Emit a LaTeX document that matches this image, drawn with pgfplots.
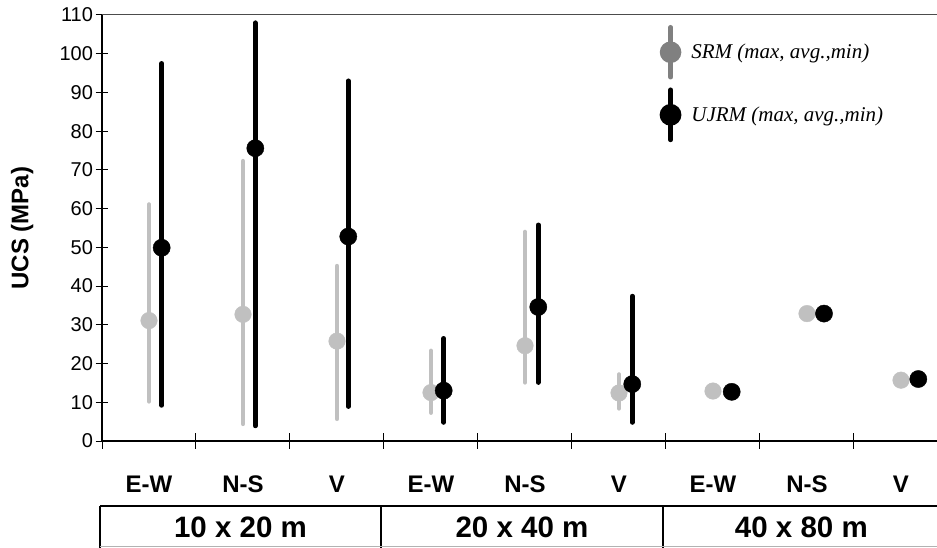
\documentclass[border=0pt]{standalone}
\usepackage{fontspec}
\setmainfont{Liberation Sans}
\newfontfamily\legfont{Liberation Serif}
\usepackage{pgfplots}
\usepackage{pgfplotstable}
\pgfplotsset{compat=1.18}
\definecolor{srm}{HTML}{C0C0C0}
\definecolor{srmleg}{HTML}{808080}

% x  avg  (max-avg)  (avg-min)
\pgfplotstableread{
x y ep em
0.5 31.1 30.0 20.9
1.5 32.7 39.6 28.3
2.5 25.8 19.4 20.1
3.5 12.5 10.8 5.2
4.5 24.6 29.4 9.5
5.5 12.4 4.8 4.0
6.5 12.9 0 0
7.5 32.9 0 0
8.5 15.7 0 0
}\srmdata

\pgfplotstableread{
x y ep em
0.635 49.9 47.6 40.7
1.631 75.6 32.4 71.7
2.620 52.8 40.2 43.9
3.635 13.0 13.5 8.2
4.641 34.6 21.2 19.5
5.641 14.7 22.7 9.9
6.699 12.7 0 0
7.681 32.9 0 0
8.684 16.0 0 0
}\ujrmdata

\begin{document}
\begin{tikzpicture}
\useasboundingbox (0,0) rectangle (937bp,548bp);
\begin{axis}[
  at={(102bp,107bp)}, anchor=south west,
  scale only axis, width=846bp, height=426bp,
  xmin=0, xmax=9, ymin=0, ymax=110,
  axis x line*=bottom, axis y line*=left,
  axis line style={line width=1.3bp, -},
  clip=false,
  xtick={0.5,1.5,...,8.5},
  xticklabels={E-W,N-S,V,E-W,N-S,V,E-W,N-S,V},
  major x tick style={draw=none},
  minor xtick={0,1,...,9},
  minor tick length=16bp,
  minor x tick style={line width=1bp, black},
  ytick={0,10,...,110},
  major tick length=13bp,
  major y tick style={line width=1bp, black},
  tick align=center,
  /pgf/number format/assume math mode=true,
  xticklabel style={font=\bfseries\fontsize{24bp}{28bp}\selectfont, anchor=center, yshift=-37bp},
  yticklabel style={font=\fontsize{20bp}{24bp}\selectfont, xshift=1bp},
  ylabel={UCS (MPa)},
  ylabel style={font=\bfseries\fontsize{24bp}{29bp}\selectfont, at={(axis description cs:-0.0945,0.5)}, anchor=center},
  legend style={at={(axis description cs:0.659,0.977)}, anchor=north west, draw=none, fill=none, inner sep=0pt, row sep=8bp, font=\legfont\itshape\fontsize{21bp}{25bp}\selectfont, cells={anchor=west}},
  legend image code/.code={\draw[line cap=round] (0bp,-25bp) -- (0bp,25bp); \fill (0bp,0bp) circle (8.5bp);},
]
\addlegendimage{srmleg, line width=4.5bp}
\addlegendentry{\hspace{8bp}SRM (max, avg.,min)}
\addlegendimage{black, line width=4.7bp}
\addlegendentry{\hspace{8bp}UJRM (max, avg.,min)}

\addplot[forget plot, srm, only marks, mark=*, mark size=8.3bp, mark options={draw=srm, fill=srm},
  error bars/.cd, y dir=both, y explicit, error mark=none,
  error bar style={srm, line width=4.3bp, line cap=round}]
  table[x=x, y=y, y error plus=ep, y error minus=em]{\srmdata};
\addplot[forget plot, black, only marks, mark=*, mark size=8.6bp, mark options={draw=black, fill=black},
  error bars/.cd, y dir=both, y explicit, error mark=none,
  error bar style={black, line width=4.7bp, line cap=round}]
  table[x=x, y=y, y error plus=ep, y error minus=em]{\ujrmdata};

\draw[line width=1bp, black!70] (axis cs:0,110) -- (axis cs:9,110);
% group box
\draw[line width=1.3bp] (axis cs:-0.021,-16.8) -- (axis cs:9.5,-16.8);
\draw[line width=1.3bp] (axis cs:-0.021,-16.8) -- (axis cs:-0.021,-27.5);
\draw[line width=1.3bp] (axis cs:2.968,-16.8) -- (axis cs:2.968,-27.5);
\draw[line width=1.3bp] (axis cs:5.968,-16.8) -- (axis cs:5.968,-27.5);
\draw[line width=1bp, black!30] (axis cs:-0.021,-27.3) -- (axis cs:9.5,-27.3);
\node[font=\bfseries\fontsize{29.5bp}{34bp}\selectfont] at (axis cs:1.473,-22.2) {10 x 20 m};
\node[font=\bfseries\fontsize{29.5bp}{34bp}\selectfont] at (axis cs:4.468,-22.2) {20 x 40 m};
\node[font=\bfseries\fontsize{29.5bp}{34bp}\selectfont] at (axis cs:7.44,-22.2) {40 x 80 m};
\end{axis}
\end{tikzpicture}
\end{document}
